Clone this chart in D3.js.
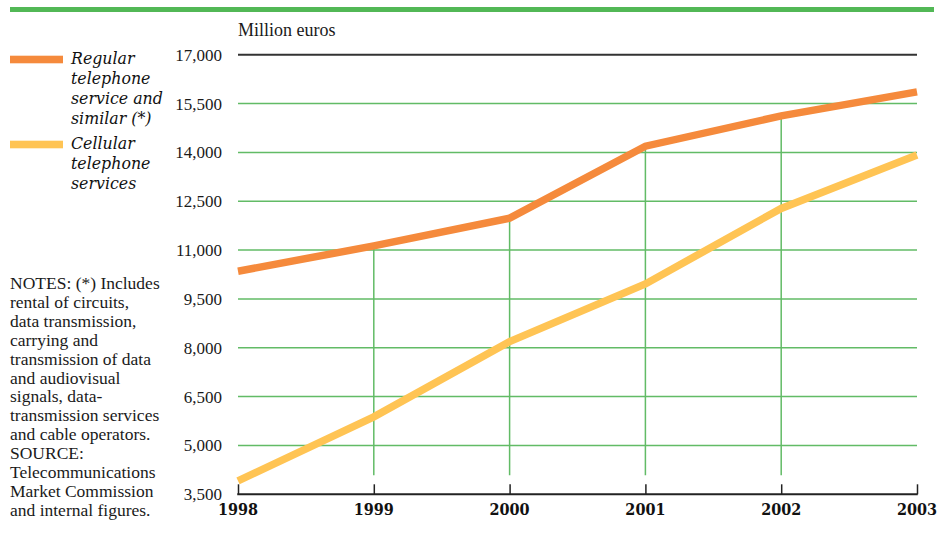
<!DOCTYPE html>
<html>
<head>
<meta charset="utf-8">
<script src="https://cdn.jsdelivr.net/npm/d3@7"></script>
<style>
  html, body { margin: 0; padding: 0; background: #fff; }
  svg { display: block; }
</style>
</head>
<body>
<div id="chart"></div>
<script>
// ---- data ----
const years = [1998, 1999, 2000, 2001, 2002, 2003];
const regular = [10350, 11130, 11980, 14190, 15120, 15860];
const cellular = [3910, 5880, 8190, 9960, 12280, 13920];
const yTicks = [3500, 5000, 6500, 8000, 9500, 11000, 12500, 14000, 15500, 17000];
const seriesNames = [["Regular", "telephone", "service and", "similar (*)"], ["Cellular", "telephone", "services"]];
const notesLines = ["NOTES: (*) Includes", "rental of circuits,", "data transmission,", "carrying and",
  "transmission of data", "and audiovisual", "signals, data-", "transmission services",
  "and cable operators.", "SOURCE:", "Telecommunications", "Market Commission", "and internal figures."];
const unitLabel = "Million euros";

// ---- styling ----
const W = 946, H = 536;
const orange = "#F58A3C", yellow = "#FFC454", grid = "#62bb66";
const serif = "'Liberation Serif', 'Times New Roman', serif";

const svg = d3.select("#chart").append("svg").attr("width", W).attr("height", H);

const x = d3.scaleLinear().domain([1998, 2003]).range([238, 917]);
const y = d3.scaleLinear().domain([3500, 17000]).range([494.3, 54.7]);

// top green bar
svg.append("rect").attr("x", 10).attr("y", 7).attr("width", 924).attr("height", 5).attr("fill", "#52b856");

// unit label
svg.append("text").attr("x", 238).attr("y", 36).attr("font-family", serif).attr("font-size", 18)
  .attr("fill", "#1a1a1a").text(unitLabel);

// horizontal gridlines
svg.append("g").selectAll("line").data(yTicks.filter(v => v !== 3500 && v !== 17000)).join("line")
  .attr("x1", x(1998)).attr("x2", x(2003))
  .attr("y1", d => y(d)).attr("y2", d => y(d))
  .attr("stroke", grid).attr("stroke-width", 1.5);

// top black line
svg.append("line").attr("x1", x(1998)).attr("x2", x(2003)).attr("y1", y(17000)).attr("y2", y(17000))
  .attr("stroke", "#333").attr("stroke-width", 2);

// vertical gridlines (from just above axis up to the regular line)
svg.append("g").selectAll("line").data(years.slice(1, -1)).join("line")
  .attr("x1", d => x(d)).attr("x2", d => x(d))
  .attr("y1", y(3500) - 19).attr("y2", (d) => y(regular[years.indexOf(d)]))
  .attr("stroke", grid).attr("stroke-width", 1.5);

// y tick labels
svg.append("g").selectAll("text").data(yTicks).join("text")
  .attr("x", 222).attr("y", d => y(d) + 6)
  .attr("text-anchor", "end").attr("font-family", serif).attr("font-size", 17).attr("fill", "#1a1a1a")
  .text(d => d3.format(",")(d));

// x axis
const xAxis = svg.append("g").attr("transform", `translate(0,${y(3500)})`)
  .call(d3.axisBottom(x).tickValues(years).tickFormat(d3.format("d")).tickSize(0).tickPadding(0));
xAxis.select(".domain").remove();
xAxis.selectAll(".tick text").remove();
xAxis.selectAll(".tick line").attr("y1", -10).attr("y2", 0).attr("stroke", "#222").attr("stroke-width", 1.5);
svg.append("line").attr("x1", x(1998) - 0.75).attr("x2", x(2003) + 0.75).attr("y1", y(3500)).attr("y2", y(3500))
  .attr("stroke", "#222").attr("stroke-width", 2);
svg.append("g").selectAll("text").data(years).join("text")
  .attr("x", d => x(d)).attr("y", 515)
  .attr("text-anchor", "middle").attr("font-family", "'DejaVu Serif Condensed', 'DejaVu Serif', serif")
  .attr("font-stretch", "condensed")
  .attr("font-weight", "bold").attr("font-size", 16).attr("fill", "#111")
  .text(d => d);

// lines
const line = d3.line().x((d, i) => x(years[i])).y(d => y(d));
[[cellular, yellow], [regular, orange]].forEach(([data, color]) => {
  svg.append("path").datum(data).attr("d", line).attr("fill", "none")
    .attr("stroke", color).attr("stroke-width", 7.5).attr("stroke-linejoin", "miter").attr("stroke-linecap", "butt");
});

// legend
const legendTop = [59.5, 144.5];
[orange, yellow].forEach((c, i) => {
  svg.append("rect").attr("x", 10).attr("y", legendTop[i] - 3.8).attr("width", 53).attr("height", 7.6).attr("fill", c);
  svg.append("g").selectAll("text").data(seriesNames[i]).join("text")
    .attr("x", 71).attr("y", (d, j) => legendTop[i] + 4.5 + j * 20)
    .attr("font-family", "'DejaVu Serif', serif").attr("font-style", "italic").attr("font-size", 15.8)
    .attr("fill", "#111").text(d => d);
});

// notes
svg.append("g").selectAll("text").data(notesLines).join("text")
  .attr("x", 10).attr("y", (d, i) => 289 + i * 18.9)
  .attr("font-family", serif).attr("font-size", 17.5).attr("fill", "#1a1a1a").text(d => d);
</script>
</body>
</html>
